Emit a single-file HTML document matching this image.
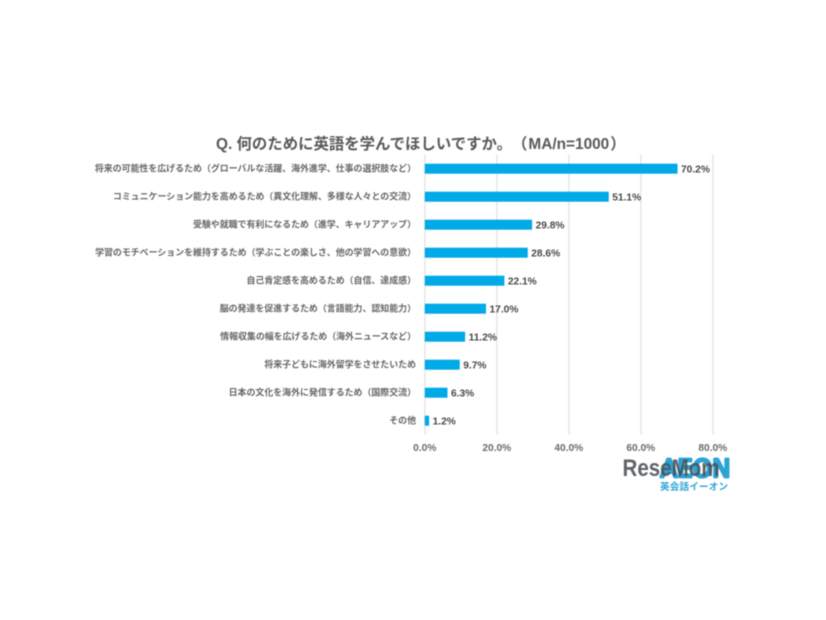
<!DOCTYPE html>
<html lang="ja">
<head>
<meta charset="utf-8">
<title>Q. 何のために英語を学んでほしいですか。</title>
<style>
html,body{margin:0;padding:0;background:#fff;width:826px;height:620px;overflow:hidden}
svg{display:block;filter:blur(0.4px)}
text{font-family:"Liberation Sans","Noto Sans CJK JP",sans-serif;text-spacing-trim:space-all}
</style>
</head>
<body>
<svg id="chart" width="826" height="620" viewBox="0 0 826 620" xmlns="http://www.w3.org/2000/svg">
  <text x="216" y="149" font-size="15.4" font-weight="700" fill="#595959">Q. 何のために英語を学んでほしいですか。（<tspan dx="1">MA/n=1000</tspan><tspan dx="1">）</tspan></text>
  <g id="grid"></g>
  <g id="bars"></g>
  <g id="labels"></g>
  <g id="values"></g>
  <g id="ticks"></g>
  <g>
    <text x="695.5" y="477" text-anchor="middle" font-size="25" font-weight="400" fill="#ffffff" stroke="#2aa3d5" stroke-width="2.8" stroke-linejoin="round" textLength="70" lengthAdjust="spacingAndGlyphs" style="font-family:'DejaVu Sans',sans-serif">AEON</text>
    <text x="694" y="490" text-anchor="middle" font-size="9.5" font-weight="700" fill="#2aa3d5" textLength="68">英会話イーオン</text>
  </g>
  <text x="622.5" y="476" font-size="24" font-weight="700" fill="#4a4e52" fill-opacity="0.88" textLength="97" lengthAdjust="spacingAndGlyphs">ReseMom</text>
</svg>
<script>
const categories = [
  "将来の可能性を広げるため（グローバルな活躍、海外進学、仕事の選択肢など）",
  "コミュニケーション能力を高めるため（異文化理解、多様な人々との交流）",
  "受験や就職で有利になるため（進学、キャリアアップ）",
  "学習のモチベーションを維持するため（学ぶことの楽しさ、他の学習への意欲）",
  "自己肯定感を高めるため（自信、達成感）",
  "脳の発達を促進するため（言語能力、認知能力）",
  "情報収集の幅を広げるため（海外ニュースなど）",
  "将来子どもに海外留学をさせたいため",
  "日本の文化を海外に発信するため（国際交流）",
  "その他"
];
const seriesValues = [70.2, 51.1, 29.8, 28.6, 22.1, 17.0, 11.2, 9.7, 6.3, 1.2];
const tickValues = [0, 20, 40, 60, 80];

const SVG_NS = "http://www.w3.org/2000/svg";
const plotLeft = 424.8, plotRight = 712.8, plotTop = 154.7, rowStep = 28, barHeight = 10;
const axisMax = 80;
function xScale(v) { return plotLeft + (v / axisMax) * (plotRight - plotLeft); }
function yScale(i) { return plotTop + rowStep * (i + 0.5); }
function make(tag, attrs, parent) {
  const el = document.createElementNS(SVG_NS, tag);
  for (const k in attrs) el.setAttribute(k, attrs[k]);
  parent.appendChild(el);
  return el;
}
const plotBottom = plotTop + rowStep * categories.length;

tickValues.forEach(function (t) {
  const line = make("line", { x1: xScale(t), x2: xScale(t), y1: plotTop, y2: plotBottom, stroke: "#dcdcdc", "stroke-width": 1 }, document.getElementById("grid"));
  
  
  const label = make("text", { x: xScale(t), y: 451, "text-anchor": "middle", "font-size": 10.2, "font-weight": 700, fill: "#6a6a6a" }, document.getElementById("ticks"));
  label.textContent = t.toFixed(1) + "%";
  
  
});

categories.forEach(function (c, i) {
  const label = make("text", { x: 416, y: yScale(i) + 3, "text-anchor": "end", "font-size": 8.94, "font-weight": 700, fill: "#666666" }, document.getElementById("labels"));
  label.textContent = c;
  
  
});

seriesValues.forEach(function (v, i) {
  const bar = make("rect", { x: xScale(0), y: yScale(i) - barHeight / 2, width: xScale(v) - xScale(0), height: barHeight, fill: "#00a9e8" }, document.getElementById("bars"));
  
  
  const value = make("text", { x: xScale(v) + 3.5, y: yScale(i) + 4, "font-size": 10.2, "font-weight": 700, fill: "#484848" }, document.getElementById("values"));
  value.textContent = v.toFixed(1) + "%";
  
  
});
</script>
</body>
</html>
